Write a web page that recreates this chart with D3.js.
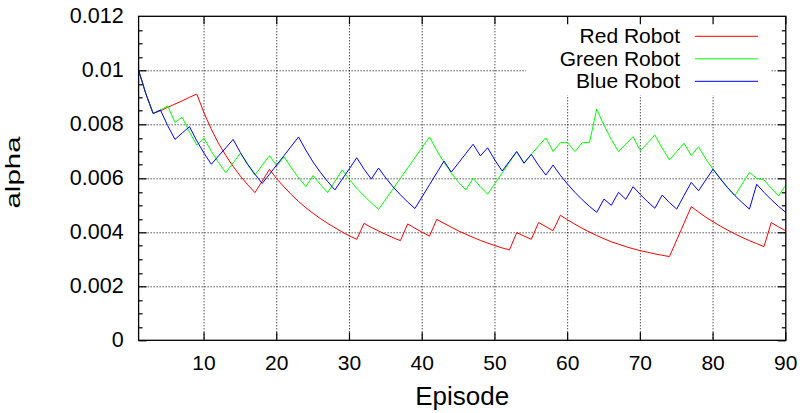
<!DOCTYPE html>
<html>
<head>
<meta charset="utf-8">
<script src="https://cdn.jsdelivr.net/npm/d3@7"></script>
<style>
  body { margin: 0; background: #fff; }
  text { font-family: "Liberation Sans", Arial, Helvetica, sans-serif; fill: #000; }
</style>
</head>
<body>
<div id="chart"></div>
<script>
// episode index (x axis)
var episodes = d3.range(1, 91);

var redRobot = [
  0.0100, 0.00913, 0.00840, 0.00850, 0.00863, 0.00875, 0.00887, 0.00900, 0.00912, 0.00842,
  0.00782, 0.00729, 0.00684, 0.00644, 0.00608, 0.00576, 0.00547, 0.00590, 0.00633, 0.00598,
  0.00568, 0.00540, 0.00514, 0.00491, 0.00470, 0.00451, 0.00433, 0.00417, 0.00401, 0.00387,
  0.00374, 0.00433, 0.00418, 0.00405, 0.00392, 0.00380, 0.00369, 0.00431, 0.00415, 0.00400,
  0.00386, 0.00448, 0.00433, 0.00419, 0.00405, 0.00393, 0.00381, 0.00370, 0.00360, 0.00351,
  0.00342, 0.00335, 0.00399, 0.00386, 0.00374, 0.00436, 0.00421, 0.00406, 0.00463, 0.00446,
  0.00430, 0.00415, 0.00401, 0.00388, 0.00376, 0.00365, 0.00356, 0.00347, 0.00339, 0.00332,
  0.00326, 0.00320, 0.00315, 0.00310, 0.00372, 0.00433, 0.00495, 0.00475, 0.00456, 0.00439,
  0.00423, 0.00408, 0.00394, 0.00381, 0.00369, 0.00358, 0.00347, 0.00436, 0.00420, 0.00405
];

var greenRobot = [
  0.0100, 0.00913, 0.00840, 0.00853, 0.00868, 0.00807, 0.00826, 0.00771, 0.00723, 0.00748,
  0.00700, 0.00658, 0.00621, 0.00657, 0.00693, 0.00650, 0.00612, 0.00648, 0.00684, 0.00646,
  0.00680, 0.00639, 0.00602, 0.00569, 0.00610, 0.00577, 0.00547, 0.00589, 0.00631, 0.00595,
  0.00563, 0.00535, 0.00509, 0.00485, 0.00523, 0.00561, 0.00600, 0.00638, 0.00676, 0.00715,
  0.00753, 0.00703, 0.00659, 0.00620, 0.00585, 0.00557, 0.00600, 0.00569, 0.00541, 0.00581,
  0.00620, 0.00660, 0.00699, 0.00656, 0.00689, 0.00720, 0.00750, 0.00699, 0.00732, 0.00732,
  0.00699, 0.00732, 0.00732, 0.00856, 0.00796, 0.00744, 0.00699, 0.00727, 0.00754, 0.00702,
  0.00731, 0.00760, 0.00712, 0.00668, 0.00699, 0.00730, 0.00684, 0.00717, 0.00672, 0.00633,
  0.00598, 0.00566, 0.00536, 0.00579, 0.00622, 0.00600, 0.00594, 0.00563, 0.00535, 0.00575
];

var blueRobot = [
  0.0100, 0.00913, 0.00840, 0.00853, 0.00795, 0.00744, 0.00768, 0.00791, 0.00739, 0.00693,
  0.00652, 0.00683, 0.00713, 0.00744, 0.00695, 0.00652, 0.00615, 0.00581, 0.00615, 0.00650,
  0.00684, 0.00719, 0.00753, 0.00704, 0.00660, 0.00622, 0.00588, 0.00557, 0.00597, 0.00636,
  0.00676, 0.00634, 0.00597, 0.00638, 0.00601, 0.00568, 0.00539, 0.00512, 0.00488, 0.00532,
  0.00576, 0.00620, 0.00664, 0.00623, 0.00657, 0.00692, 0.00726, 0.00683, 0.00713, 0.00667,
  0.00627, 0.00663, 0.00699, 0.00656, 0.00689, 0.00648, 0.00612, 0.00649, 0.00611, 0.00578,
  0.00548, 0.00521, 0.00496, 0.00474, 0.00523, 0.00500, 0.00548, 0.00522, 0.00569, 0.00540,
  0.00513, 0.00489, 0.00538, 0.00510, 0.00486, 0.00536, 0.00585, 0.00554, 0.00594, 0.00634,
  0.00598, 0.00565, 0.00536, 0.00510, 0.00486, 0.00578, 0.00548, 0.00521, 0.00496, 0.00474
];

var seriesNames = ["Red Robot", "Green Robot", "Blue Robot"];
var seriesColors = ["#ff0000", "#00ff00", "#0000ff"];
var xTicks = [10, 20, 30, 40, 50, 60, 70, 80, 90];
var yTicks = [0, 0.002, 0.004, 0.006, 0.008, 0.01, 0.012];
var yMinorTicks = d3.range(0, 24).map(function (i) { return i * 0.0005; });

var allSeries = [redRobot, greenRobot, blueRobot];

// dimensions
var W = 806, H = 413;
var margin = {top: 16.3, right: 20.2, bottom: 72.7, left: 138.6},
  width = W - margin.left - margin.right,
  height = H - margin.top - margin.bottom;

var svg = d3.select("#chart").append("svg")
  .attr("width", W)
  .attr("height", H);

var g = svg.append("g")
  .attr("transform", "translate(" + margin.left + "," + margin.top + ")");

var x = d3.scaleLinear().domain([1, 90]).range([0, width]);
var y = d3.scaleLinear().domain([0, 0.012]).range([height, 0]);

// grid
g.append("g").selectAll("line.vgrid")
  .data(xTicks.slice(0, -1))
  .enter().append("line")
    .attr("x1", function (d) { return x(d); })
    .attr("x2", function (d) { return x(d); })
    .attr("y1", 0).attr("y2", height)
    .attr("stroke", "#000").attr("stroke-width", 1)
    .attr("stroke-dasharray", "1,2");

g.append("g").selectAll("line.hgrid")
  .data(yTicks.slice(1, -1))
  .enter().append("line")
    .attr("x1", 0).attr("x2", width)
    .attr("y1", function (d) { return Math.round(y(d)) + 0.5; })
    .attr("y2", function (d) { return Math.round(y(d)) + 0.5; })
    .attr("stroke", "#000").attr("stroke-width", 1)
    .attr("stroke-dasharray", "1,2");

// opaque key background
var keyRight = x(80) + 58;
g.append("rect")
  .attr("x", x(54.3)).attr("y", 1)
  .attr("width", keyRight - x(54.3)).attr("height", 78)
  .attr("fill", "#fff");

// lines
var line = d3.line()
  .x(function (d, i) { return x(episodes[i]); })
  .y(function (d) { return y(d); });

g.selectAll("path.series")
  .data(allSeries)
  .enter().append("path")
    .attr("class", "series")
    .attr("fill", "none")
    .attr("stroke", function (d, i) { return seriesColors[i]; })
    .attr("stroke-width", 1)
    .attr("d", line);

// border
g.append("rect")
  .attr("x", 0).attr("y", 0)
  .attr("width", width).attr("height", height)
  .attr("fill", "none").attr("stroke", "#000").attr("stroke-width", 1.3);

// ticks (inward, both sides)
var xTickG = g.append("g");
xTicks.forEach(function (t) {
  xTickG.append("line").attr("x1", x(t)).attr("x2", x(t)).attr("y1", height).attr("y2", height - 8)
    .attr("stroke", "#000").attr("stroke-width", 1.2);
  xTickG.append("line").attr("x1", x(t)).attr("x2", x(t)).attr("y1", 0).attr("y2", 8)
    .attr("stroke", "#000").attr("stroke-width", 1.2);
});

var yTickG = g.append("g");
yMinorTicks.forEach(function (t) {
  var isMajor = Math.abs(t / 0.002 - Math.round(t / 0.002)) < 1e-6;
  var len = isMajor ? 8 : 4;
  var yy = Math.round(y(t)) + 0.5;
  yTickG.append("line").attr("x1", 0).attr("x2", len).attr("y1", yy).attr("y2", yy)
    .attr("stroke", "#000").attr("stroke-width", 1.2);
  yTickG.append("line").attr("x1", width).attr("x2", width - len).attr("y1", yy).attr("y2", yy)
    .attr("stroke", "#000").attr("stroke-width", 1.2);
});

// tick labels
g.append("g").selectAll("text")
  .data(xTicks)
  .enter().append("text")
    .attr("x", function (d) { return x(d); })
    .attr("y", height + 30)
    .attr("text-anchor", "middle")
    .style("font-size", "21px")
    .text(function (d) { return d; });

g.append("g").selectAll("text")
  .data(yTicks)
  .enter().append("text")
    .attr("x", -15)
    .attr("y", function (d) { return y(d) + 7; })
    .attr("text-anchor", "end")
    .style("font-size", "21.5px")
    .text(function (d) { return d === 0 ? "0" : String(+d.toFixed(3)); });

// axis titles
svg.append("text")
  .attr("x", margin.left + width / 2)
  .attr("y", 405)
  .attr("text-anchor", "middle")
  .style("font-size", "26px")
  .text("Episode");

svg.append("text")
  .attr("transform", "translate(20,172.5) rotate(-90)")
  .attr("text-anchor", "middle")
  .attr("textLength", 72)
  .attr("lengthAdjust", "spacingAndGlyphs")
  .style("font-size", "21px")
  .text("alpha");

// legend
var legend = g.append("g");
seriesNames.forEach(function (name, i) {
  var ly = 20 + i * 22.5;
  legend.append("text")
    .attr("x", 680 - margin.left)
    .attr("y", ly + 7)
    .attr("text-anchor", "end")
    .style("font-size", "21px")
    .text(name);
  legend.append("line")
    .attr("x1", 695 - margin.left).attr("x2", 758 - margin.left)
    .attr("y1", ly).attr("y2", ly)
    .attr("stroke", seriesColors[i]).attr("stroke-width", 1);
});
</script>
</body>
</html>
